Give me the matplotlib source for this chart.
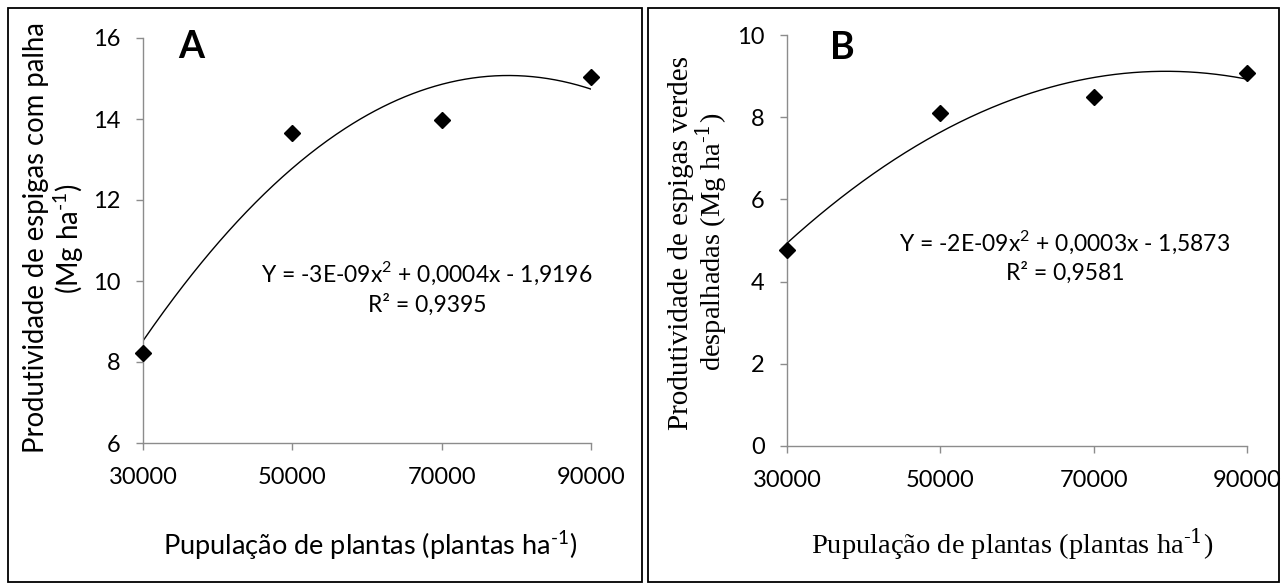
import numpy as np
import matplotlib
matplotlib.use("Agg")
from matplotlib import pyplot as plt
from matplotlib.patches import Rectangle

# data
populacao = [30000, 50000, 70000, 90000]
espigas_palha = [8.23, 13.66, 13.98, 15.03]      # panel A
espigas_despalhadas = [4.78, 8.10, 8.50, 9.08]   # panel B
x_ticks = [30000, 50000, 70000, 90000]
yticks_a = [6, 8, 10, 12, 14, 16]
yticks_b = [0, 2, 4, 6, 8, 10]
eq_a = ["Y = -3E-09x$^{2}$ + 0,0004x - 1,9196", "R² = 0,9395"]
eq_b = ["Y = -2E-09x$^{2}$ + 0,0003x - 1,5873", "R² = 0,9581"]

W, H = 1285, 585
sans = "Lato"
serif = "Liberation Serif"
plt.rcParams["font.family"] = [sans, "DejaVu Sans"]
plt.rcParams["mathtext.fontset"] = "custom"
plt.rcParams["mathtext.rm"] = sans

SUP = r"$^{\text{-1}}$"

fig = plt.figure(figsize=(W / 100, H / 100), dpi=100)


def px(x, y):
    # pixel position (from top-left) -> figure fraction
    return x / W, 1 - y / H


def make_axes(left, right, top, bottom):
    l, t = px(left, top)
    r, b = px(right, bottom)
    return fig.add_axes([l, b, r - l, t - b])


def style(ax, yt):
    for s in ["top", "right"]:
        ax.spines[s].set_visible(False)
    for s in ["left", "bottom"]:
        ax.spines[s].set_color("#8c8c8c")
        ax.spines[s].set_linewidth(1.0)
    ax.tick_params(colors="#8c8c8c", length=5, width=1.0, labelsize=17,
                   labelcolor="black")
    ax.tick_params(axis="y", pad=11)
    ax.tick_params(axis="x", pad=12)
    ax.set_xlim(x_ticks[0], x_ticks[-1])
    ax.set_ylim(yt[0], yt[-1])
    ax.set_xticks(x_ticks)
    ax.set_yticks(yt)


def draw(ax, x, y):
    coef = np.polyfit(x, y, 2)
    xs = np.linspace(x_ticks[0], x_ticks[-1], 300)
    ax.plot(xs, np.polyval(coef, xs), color="black", lw=1.0, zorder=2)
    ax.plot(x, y, ls="none", marker="D", ms=8, color="black", zorder=3,
            clip_on=False)


# panel frames
for (x0, x1) in [(8, 642), (648, 1279)]:
    l, t = px(x0, 8)
    r, b = px(x1, 582)
    fig.add_artist(Rectangle((l, b), r - l, t - b, transform=fig.transFigure,
                             fill=False, ec="black", lw=1.3))

# panel A
axa = make_axes(143, 591, 38, 443)
style(axa, yticks_a)
draw(axa, populacao, espigas_palha)
axa.text(0.078, 1.02, "A", transform=axa.transAxes, fontsize=27,
         fontweight="bold", va="top", ha="left")
fig.text(*px(427, 273), eq_a[0], fontsize=16.5, ha="center", va="center")
fig.text(*px(427, 305), eq_a[1], fontsize=16.5, ha="center", va="center")
fig.text(*px(36, 238), "Produtividade de espigas com palha", fontsize=19.8,
         rotation=90, ha="center", va="center")
fig.text(*px(69, 239), "(Mg ha" + SUP + ")", fontsize=19.8,
         rotation=90, ha="center", va="center")
fig.text(*px(370, 545), "Pupulação de plantas (plantas ha" + SUP + ")",
         fontsize=19.5, ha="center", va="center")

# panel B
axb = make_axes(787, 1247, 35, 446)
style(axb, yticks_b)
draw(axb, populacao, espigas_despalhadas)
axb.text(0.093, 1.01, "B", transform=axb.transAxes, fontsize=27,
         fontweight="bold", va="top", ha="left")
fig.text(*px(1065, 242), eq_b[0], fontsize=16.5, ha="center", va="center")
fig.text(*px(1065, 273), eq_b[1], fontsize=16.5, ha="center", va="center")
serif_kw = dict(family=serif, math_fontfamily="dejavuserif")
fig.text(*px(681, 243), "Produtividade de espigas verdes", fontsize=21,
         rotation=90, ha="center", va="center", **serif_kw)
fig.text(*px(711, 242), "despalhadas (Mg ha" + SUP + ")", fontsize=20.5,
         rotation=90, ha="center", va="center", **serif_kw)
fig.text(*px(1012, 544), "Pupulação de plantas (plantas ha" + SUP + ")",
         fontsize=20.5, ha="center", va="center", **serif_kw)

fig.savefig("out.png", dpi=100)
